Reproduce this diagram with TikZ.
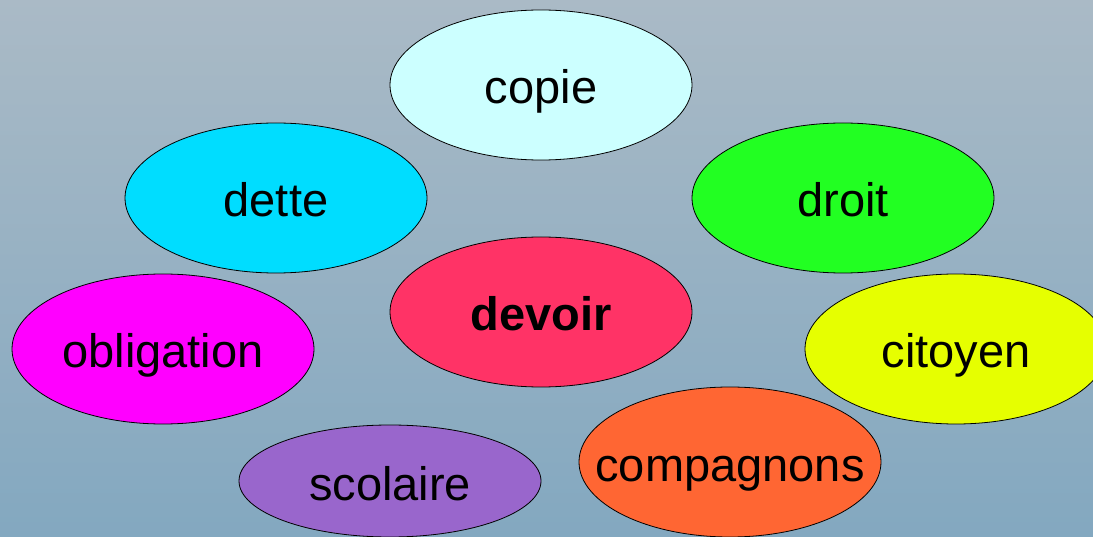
\documentclass[tikz,border=0pt]{standalone}
\usepackage{fontspec}
\setmainfont{Liberation Sans}
\usetikzlibrary{shapes.geometric}
\definecolor{bgtop}{RGB}{170,186,198}
\definecolor{bgbot}{RGB}{131,168,192}
\definecolor{copiecol}{RGB}{204,255,255}
\definecolor{dettecol}{RGB}{0,221,255}
\definecolor{droitcol}{RGB}{34,255,34}
\definecolor{devoircol}{RGB}{255,51,102}
\definecolor{obligcol}{RGB}{255,0,255}
\definecolor{citoyencol}{RGB}{230,255,0}
\definecolor{compcol}{RGB}{255,102,51}
\definecolor{scolcol}{RGB}{153,102,204}
\tikzset{
  blob/.style={ellipse,draw=black,line width=0.8pt,inner sep=0,minimum width=302pt,minimum height=150pt},
  word/.style={anchor=base,yshift=-19pt,inner sep=0,font=\fontsize{47}{56}\selectfont}
}
\begin{document}
\begin{tikzpicture}[x=1pt,y=-1pt]
\useasboundingbox (0,0) rectangle (1093,537);
\shade[top color=bgtop,bottom color=bgbot] (0,0) rectangle (1093,537);
\node[blob,fill=copiecol] (copie) at (541,85) {};
\node[word] (copie-t) at (copie) {copie};
\node[blob,fill=dettecol] (dette) at (276,198) {};
\node[word] (dette-t) at (dette) {dette};
\node[blob,fill=droitcol] (droit) at (843,198) {};
\node[word] (droit-t) at (droit) {droit};
\node[blob,fill=devoircol] (devoir) at (541,312) {};
\node[word,font=\fontsize{47}{56}\selectfont\bfseries] (devoir-t) at (devoir) {devoir};
\node[blob,fill=obligcol] (oblig) at (163,349) {};
\node[word] (oblig-t) at (oblig) {obligation};
\node[blob,fill=citoyencol] (citoyen) at (956,349) {};
\node[word] (citoyen-t) at (citoyen) {citoyen};
\node[blob,fill=compcol] (comp) at (730,462) {};
\node[word] (comp-t) at (comp) {compagnons};
\node[blob,fill=scolcol,minimum height=112pt] (scol) at (390,481) {};
\node[word] (scol-t) at (scol) {scolaire};
\end{tikzpicture}
\end{document}
